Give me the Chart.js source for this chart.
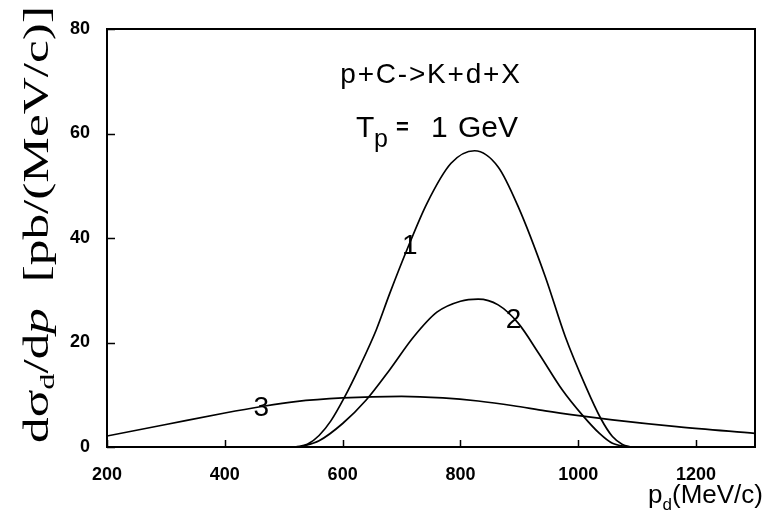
<!DOCTYPE html>
<html>
<head>
<meta charset="utf-8">
<script src="https://cdn.jsdelivr.net/npm/chart.js@4.4.1/dist/chart.umd.min.js"></script>
<style>
  html, body { margin: 0; padding: 0; background: #fff; }
  #wrap { width: 765px; height: 520px; position: relative; }
</style>
</head>
<body>
<div id="wrap"><canvas id="c" width="765" height="520"></canvas></div>
<script>
// Deuteron momentum spectra, p + C -> K + d + X at Tp = 1 GeV
// momentum p_d in MeV/c, cross section in pb/(MeV/c)
const curve1X = [520, 540, 560, 580, 603, 629, 657, 680, 709, 743, 784, 824, 864, 898, 944, 978, 1013, 1038, 1058, 1075, 1090];
const curve1Y = [0, 0.5, 2.2, 5.0, 9.5, 15.4, 22.4, 29.4, 37.7, 46.6, 54.3, 56.7, 53.6, 46.0, 32.6, 21.1, 11.5, 5.5, 2.0, 0.5, 0];

const curve2X = [527, 560, 600, 640, 680, 720, 760, 800, 830, 864, 898, 933, 973, 1007, 1036, 1058, 1085];
const curve2Y = [0, 1.2, 4.5, 9.0, 14.8, 21.0, 25.8, 27.9, 28.3, 27.2, 23.7, 17.9, 10.9, 6.1, 2.6, 0.7, 0];

const curve3X = [200, 300, 400, 460, 520, 600, 700, 770, 830, 890, 944, 1001, 1058, 1167, 1300];
const curve3Y = [2.1, 4.3, 6.5, 7.7, 8.7, 9.4, 9.7, 9.4, 8.8, 7.9, 6.9, 6.0, 5.2, 3.9, 2.6];

// curve numbers, placed in data coordinates next to their curves
const curveTags = ['1', '2', '3'];
const tagX = [714, 890, 462];
const tagY = [38.5, 24.3, 7.5];

const xTicks = [200, 400, 600, 800, 1000, 1200];
const yTicks = [0, 20, 40, 60, 80];

const toPoints = (xs, ys) => xs.map((x, i) => ({ x: x, y: ys[i] }));

const lineStyle = {
  borderColor: '#000',
  borderWidth: 1.7,
  pointRadius: 0,
  fill: false,
  cubicInterpolationMode: 'monotone'
};

const SANS = '"Liberation Sans", Arial, Helvetica, sans-serif';
const SERIF = '"Liberation Serif", "Times New Roman", serif';

const decorations = {
  id: 'decorations',
  afterDraw(chart) {
    const ctx = chart.ctx;
    const a = chart.chartArea;
    const xs = chart.scales.x, ys = chart.scales.y;
    ctx.save();
    // frame
    ctx.strokeStyle = '#000';
    ctx.lineWidth = 2;
    ctx.strokeRect(a.left, a.top, a.right - a.left, a.bottom - a.top);
    // inward tick marks on bottom and left axes
    ctx.lineWidth = 1.5;
    ctx.beginPath();
    xTicks.forEach(v => {
      const px = Math.round(xs.getPixelForValue(v)) + 0.5;
      ctx.moveTo(px, a.bottom);
      ctx.lineTo(px, a.bottom - 7);
    });
    yTicks.forEach(v => {
      const py = Math.round(ys.getPixelForValue(v)) + 0.5;
      ctx.moveTo(a.left, py);
      ctx.lineTo(a.left + 8, py);
    });
    ctx.stroke();

    // curve numbers
    ctx.fillStyle = '#000';
    ctx.font = '28px ' + SANS;
    ctx.textAlign = 'center';
    ctx.textBaseline = 'middle';
    curveTags.forEach((t, i) => {
      ctx.fillText(t, xs.getPixelForValue(tagX[i]), ys.getPixelForValue(tagY[i]));
    });

    // reaction and beam energy
    ctx.textBaseline = 'alphabetic';
    ctx.font = '28px ' + SANS;
    if ('letterSpacing' in ctx) ctx.letterSpacing = '1.8px';
    ctx.textAlign = 'center';
    ctx.fillText('p+C->K+d+X', 431, 83);
    if ('letterSpacing' in ctx) ctx.letterSpacing = '0px';
    ctx.textAlign = 'left';
    ctx.font = '30px ' + SANS;
    ctx.fillText('T', 356, 137);
    ctx.font = '25px ' + SANS;
    ctx.fillText('p', 374, 147);
    ctx.font = 'bold 22px ' + SANS;
    ctx.fillText('=', 396, 134);
    ctx.font = '30px ' + SANS;
    ctx.fillText('1', 431, 137);
    ctx.fillText('GeV', 458, 137);

    // x axis title, right aligned to the canvas edge
    const tParts = [
      { t: 'p', f: '26px ' + SANS, dy: 0 },
      { t: 'd', f: '17px ' + SANS, dy: 7 },
      { t: '(MeV/c)', f: '26px ' + SANS, dy: 0 }
    ];
    let tw = 0;
    tParts.forEach(p => { ctx.font = p.f; p.w = ctx.measureText(p.t).width; tw += p.w; });
    let x = 763 - tw;
    tParts.forEach(p => {
      ctx.font = p.f;
      ctx.fillText(p.t, x, 503 + p.dy);
      x += p.w;
    });

    // y axis title, rotated, with subscript and italic momentum
    const parts = [
      { t: 'd', f: '35px ' + SERIF, dy: 0 },
      { t: 'σ', f: '35px ' + SERIF, dy: 0 },
      { t: 'd', f: '22px ' + SERIF, dy: 6 },
      { t: '/d', f: '35px ' + SERIF, dy: 0 },
      { t: 'p', f: 'italic 35px ' + SERIF, dy: 0 },
      { t: '  [pb/(MeV/c)]', f: '35px ' + SERIF, dy: 0 }
    ];
    let total = 0;
    parts.forEach(p => { ctx.font = p.f; p.w = ctx.measureText(p.t).width; total += p.w; });
    const start = 443, end = 6;
    const sx = (start - end) / total;
    ctx.translate(48, start);
    ctx.rotate(-Math.PI / 2);
    ctx.scale(sx, 1);
    ctx.textAlign = 'left';
    let pos = 0;
    parts.forEach(p => {
      ctx.font = p.f;
      ctx.fillText(p.t, pos, p.dy);
      pos += p.w;
    });
    ctx.restore();
  }
};

new Chart(document.getElementById('c'), {
  type: 'line',
  data: {
    datasets: [
      Object.assign({ label: '1', data: toPoints(curve1X, curve1Y) }, lineStyle),
      Object.assign({ label: '2', data: toPoints(curve2X, curve2Y) }, lineStyle),
      Object.assign({ label: '3', data: toPoints(curve3X, curve3Y) }, lineStyle)
    ]
  },
  options: {
    responsive: false,
    animation: false,
    events: [],
    layout: { padding: { top: 29, right: 10, left: 0, bottom: 0 } },
    plugins: { legend: { display: false }, tooltip: { enabled: false } },
    scales: {
      x: {
        type: 'linear',
        min: 200,
        max: 1300,
        grid: { display: false },
        border: { display: false },
        afterBuildTicks: s => { s.ticks = xTicks.map(v => ({ value: v })); },
        afterFit: s => { s.height = 73; },
        ticks: {
          padding: 9,
          color: '#000',
          font: { family: SANS, size: 18, weight: 'bold' },
          maxRotation: 0,
          callback: v => String(v)
        }
      },
      y: {
        type: 'linear',
        min: 0,
        max: 80,
        grid: { display: false },
        border: { display: false },
        afterBuildTicks: s => { s.ticks = yTicks.map(v => ({ value: v })); },
        afterFit: s => { s.width = 107; },
        ticks: {
          padding: 9,
          color: '#000',
          font: { family: SANS, size: 18, weight: 'bold' },
          callback: v => String(v)
        }
      }
    }
  },
  plugins: [decorations]
});
</script>
</body>
</html>
